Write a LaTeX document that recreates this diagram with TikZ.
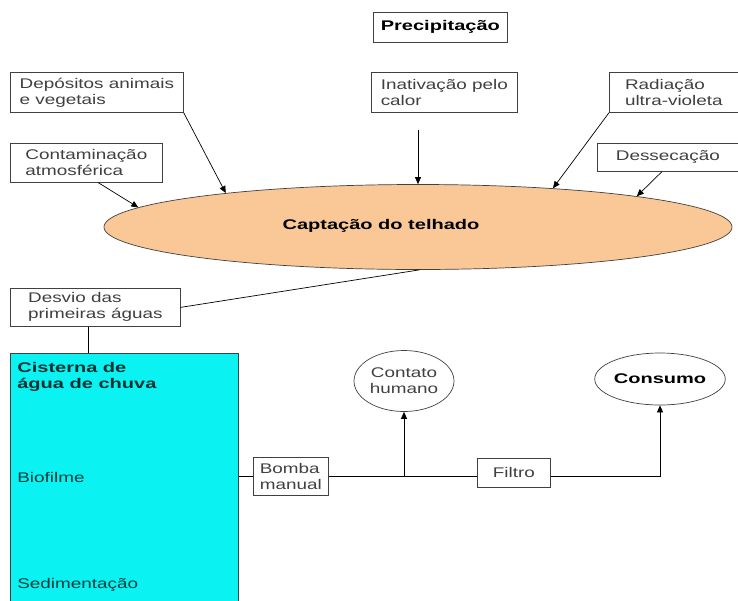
\documentclass[tikz,border=0pt]{standalone}
\usepackage{fontspec}
\setmainfont[FakeStretch=1.35, BoldFeatures={FakeStretch=1.43}]{Liberation Sans}
\usetikzlibrary{arrows.meta,shapes.geometric}
\definecolor{roof}{RGB}{250,200,150}
\definecolor{tank}{RGB}{10,242,242}

\begin{document}
\begin{tikzpicture}[x=1pt, y=-1pt, >={Triangle[length=7pt,width=6pt]}, line width=0.7pt,
	lbl/.style={draw=black!75, fill=white, inner xsep=5pt, inner ysep=3pt, align=left,
		anchor=north west, text=black!75, font=\fontsize{14}{16}\selectfont},
	oval/.style={draw=black!75, ellipse, inner sep=0pt, align=center,
		text=black!75, font=\fontsize{14}{16}\selectfont},
	bold/.style={text=black, font=\fontsize{14}{16}\selectfont\bfseries}]
			
			\useasboundingbox (0,0) rectangle (738,600);
			
			\node[lbl, bold, minimum width=134pt, minimum height=30pt] (prec) at (373,12) {Precipitação};
			\node[lbl, minimum width=173pt, minimum height=40pt] (dep) at (10,72) {Depósitos animais\\e vegetais};
			\node[lbl, minimum width=146pt, minimum height=40pt] (inat) at (371,72) {Inativação pelo\\calor};
			\node[lbl, minimum width=129pt, minimum height=40pt] (rad) at (609,72) {Radiação\\ultra-violeta};
			\node[lbl, minimum width=152pt, minimum height=39pt] (cont) at (10,143) {Contaminação\\atmosférica};
			\node[lbl, minimum width=141pt, minimum height=28pt] (dess) at (597,143) {Dessecação};
			
			\node[oval, fill=roof, minimum width=628pt, minimum height=85pt] (capt) at (418,227) {};
			\node[bold, inner sep=0pt] (captT) at (381,226) {Captação do telhado};
			
			\coordinate (heat) at (418,130);
			\draw[->] (dep.south east) -- (capt.170);
			\draw[->] (heat) -- (capt.north);
			\draw[->] (rad.south west) -- (capt.16);
			\draw[->] ([xshift=-6pt]dess.south) -- (capt.8.6);
			\draw[->] ([xshift=12pt]cont.south) -- (capt.176);
			
			\node[lbl, minimum width=170pt, minimum height=38pt] (desvio) at (10,288) {Desvio das\\primeiras águas};
			\draw (capt.272) -- (desvio.east);
			
			\node[draw=black!75, fill=tank, anchor=north west, minimum width=228pt,
			minimum height=262pt, inner sep=0pt] (cist) at (10,353) {};
			\draw ([xshift=-7pt]desvio.south) -- ([xshift=-7pt]desvio.south |- cist.north);
			\node[bold, text=tank!20!black, anchor=north west, align=left, inner sep=0pt] (cistT) at (17,362) {Cisterna de\\água de chuva};
			\node[anchor=west, inner sep=0pt, text=tank!25!black, font=\fontsize{14}{16}\selectfont] (bio) at (17,477) {Biofilme};
			\node[anchor=west, inner sep=0pt, text=tank!25!black, font=\fontsize{14}{16}\selectfont] (sed) at (17,585) {Sedimentação};
			
			\node[lbl, minimum width=75pt, minimum height=38pt] (bomba) at (253,457) {Bomba\\manual};
			\node[lbl, minimum width=73pt, minimum height=29pt] (filtro) at (477,458) {Filtro};
			\node[oval, minimum width=100pt, minimum height=61pt] (contato) at (404,381) {Contato\\humano};
			\node[oval, bold, minimum width=122pt, minimum height=52pt] (consumo) at (660,379) {Consumo};
			
			\draw (cist.east |- bomba.west) -- (bomba.west);
			\draw (bomba.east) -- (bomba.east -| filtro.west);
			\draw[->] (contato.south |- bomba.east) -- (contato.south);
			\draw[->] (filtro.east |- bomba.east) -| (consumo.south);
			
	\end{tikzpicture}
\end{document}
